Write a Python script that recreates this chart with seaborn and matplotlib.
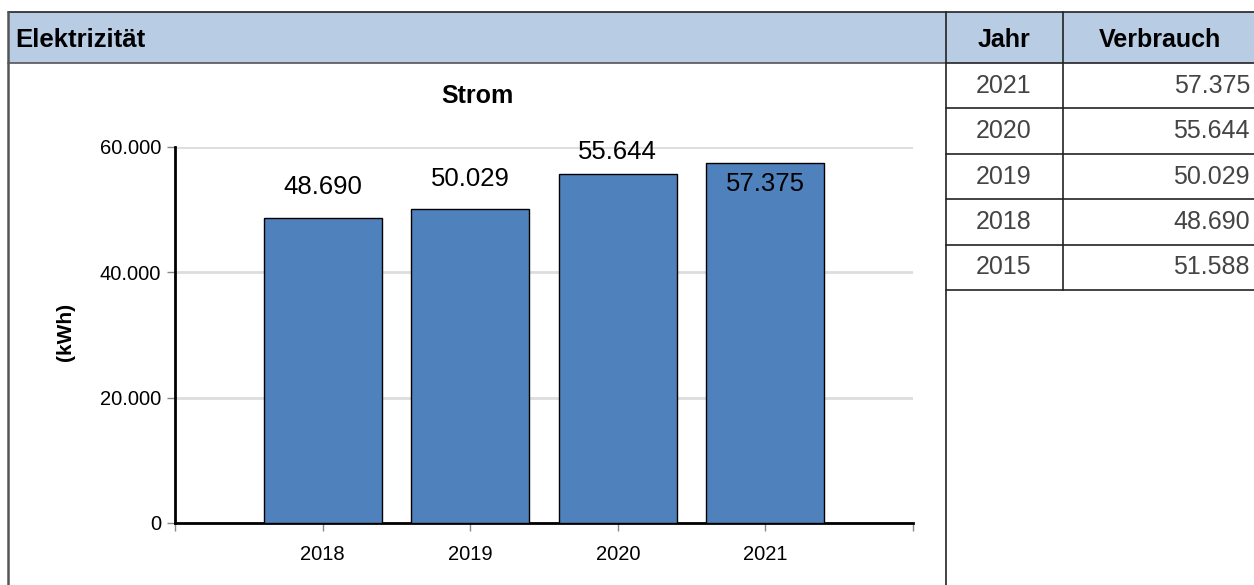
import seaborn as sns
import pandas as pd
import matplotlib.pyplot as plt
from matplotlib.patches import Rectangle
from matplotlib.lines import Line2D
from matplotlib.ticker import FuncFormatter


# Chart data
years = ['2018', '2019', '2020', '2021']
consumption = [48690, 50029, 55644, 57375]

# Table data (right side)
table_years = ['2021', '2020', '2019', '2018', '2015']
table_values = [57375, 55644, 50029, 48690, 51588]


def de_fmt(v):
    return f'{int(round(v)):,}'.replace(',', '.')


W, H = 1254, 585
sns.set_style('white')
plt.rcParams['font.family'] = ['Liberation Sans', 'DejaVu Sans']
plt.rcParams['text.color'] = 'black'
plt.rcParams['axes.labelcolor'] = 'black'

fig = plt.figure(figsize=(W / 100, H / 100), dpi=100)


def fx(px):
    return px / W


def fy(py):
    return 1 - py / H


# Header bars (panel + table header)
header_col = '#b8cce4'
fig.patches.append(Rectangle((fx(8), fy(63)), fx(946 - 8), 51 / H,
                             transform=fig.transFigure, facecolor=header_col,
                             edgecolor='none', zorder=0))
fig.patches.append(Rectangle((fx(946), fy(63)), fx(W - 946), 51 / H,
                             transform=fig.transFigure, facecolor=header_col,
                             edgecolor='none', zorder=0))

# Frame lines
def hline(y, x0, x1, color='#222222', lw=1.2):
    fig.lines.append(Line2D([fx(x0), fx(x1)], [fy(y), fy(y)],
                            transform=fig.transFigure, color=color, lw=lw))


def vline(x, y0, y1, color='#222222', lw=1.2):
    fig.lines.append(Line2D([fx(x), fx(x)], [fy(y0), fy(y1)],
                            transform=fig.transFigure, color=color, lw=lw))


hline(12, 8, W)
hline(63, 8, 946, color='#555555')
hline(63, 946, W)
vline(8, 12, H, color='#555555', lw=1.8)
vline(946, 12, H)
vline(1063, 12, 290)
row_h = 45.4
for i in range(len(table_years)):
    hline(63 + row_h * (i + 1), 946, W)

fig.text(fx(15), fy(40), 'Elektrizität', fontsize=18.5, fontweight='bold',
         ha='left', va='center')
fig.text(fx(1004), fy(40), 'Jahr', fontsize=18, fontweight='bold',
         ha='center', va='center')
fig.text(fx(1160), fy(40), 'Verbrauch', fontsize=18, fontweight='bold',
         ha='center', va='center')

for i, (yr, val) in enumerate(zip(table_years, table_values)):
    cy = 63 + row_h * (i + 0.5)
    fig.text(fx(1004), fy(cy), yr, fontsize=18, color='#444444',
             ha='center', va='center')
    fig.text(fx(1250), fy(cy), de_fmt(val), fontsize=18, color='#444444',
             ha='right', va='center')

# Chart
fig.text(fx(477), fy(96), 'Strom', fontsize=18, fontweight='bold',
         ha='center', va='center')

ax = fig.add_axes([fx(175), fy(523), fx(913 - 175), (523 - 147) / H])
df = pd.DataFrame({'Jahr': years, 'Verbrauch': consumption})
sns.barplot(data=df, x='Jahr', y='Verbrauch', order=years, color='#4f81bd',
            saturation=1, width=0.8, edgecolor='black', linewidth=1, ax=ax,
            zorder=3)

ax.set_xlim(-1, len(years))
ax.set_ylim(0, 60000)
ax.set_yticks([0, 20000, 40000, 60000])
ax.yaxis.set_major_formatter(FuncFormatter(lambda v, p: de_fmt(v)))
ax.set_xticks(range(-1, len(years) + 1))
ax.set_xticklabels([''] + years + [''])
ax.tick_params(axis='both', labelsize=14.5, colors='#888888',
               labelcolor='black', length=6, width=1, direction='out',
               bottom=True, left=True)
ax.tick_params(axis='x', pad=10)
ax.tick_params(axis='y', pad=4)
ax.grid(axis='y', color='#dddddd', linewidth=2, zorder=0)
ax.set_axisbelow(True)
for s in ['top', 'right']:
    ax.spines[s].set_visible(False)
for s in ['left', 'bottom']:
    ax.spines[s].set_color('black')
    ax.spines[s].set_linewidth(2)
ax.set_xlabel('')
ax.set_ylabel('')
fig.text(fx(65), fy(332), '(kWh)', fontsize=15, fontweight='bold',
         rotation=90, ha='center', va='center')

# Value labels
label_offsets = [22, 22, 16, -15]
for i, (v, off) in enumerate(zip(consumption, label_offsets)):
    ax.annotate(de_fmt(v), (i, v), xytext=(0, off), textcoords='offset points',
                ha='center', va='center', fontsize=18.5, color='black',
                zorder=5)

fig.savefig('out.png', dpi=100)
